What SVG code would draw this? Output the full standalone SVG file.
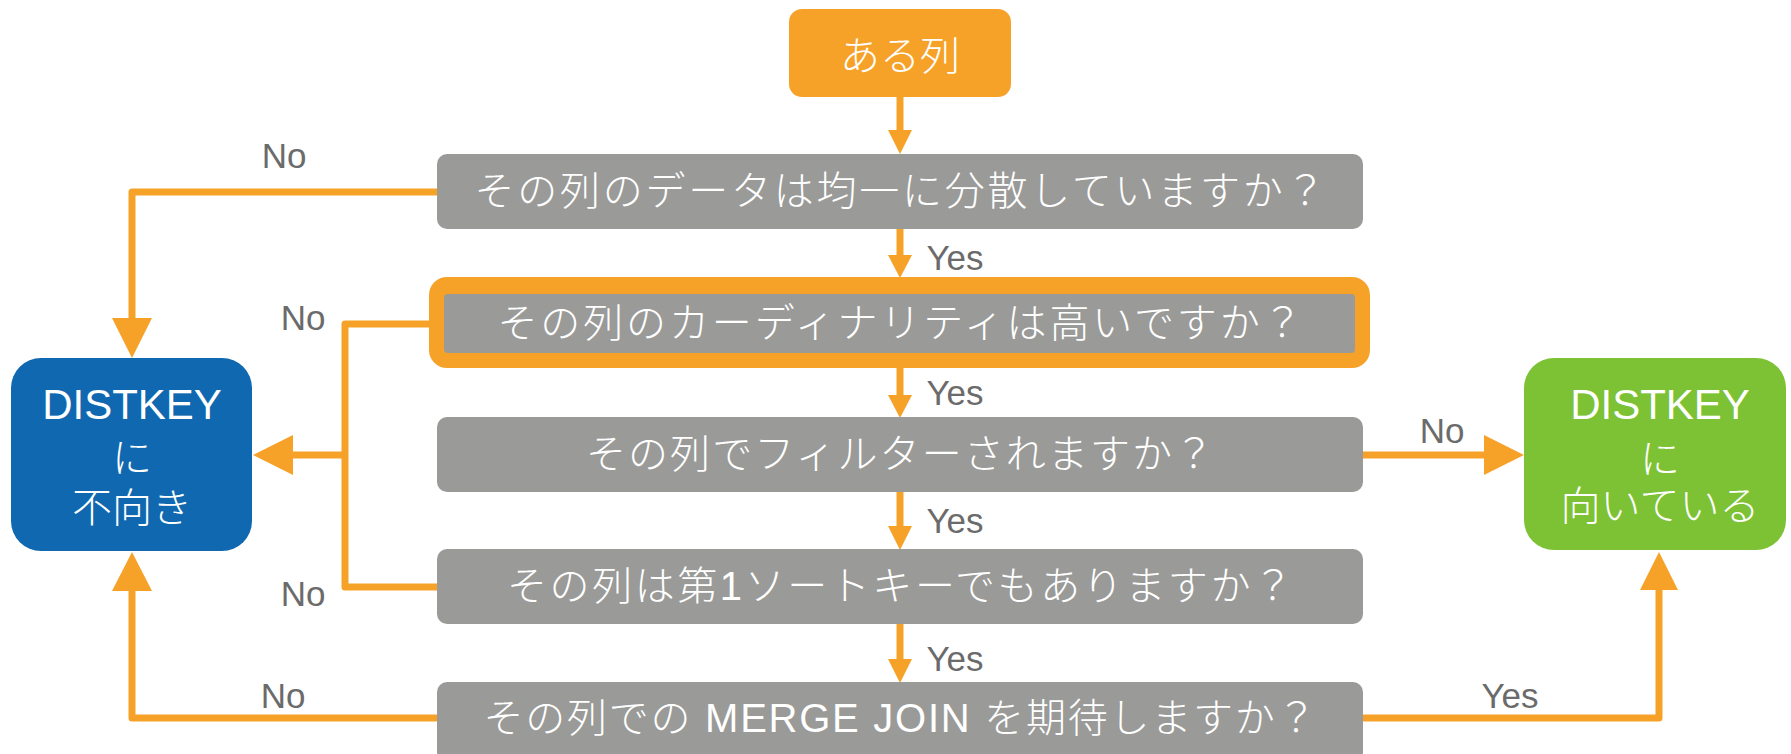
<svg xmlns="http://www.w3.org/2000/svg" width="1791" height="754" viewBox="0 0 1791 754">
<style>
.q{fill:#9A9A98}
.qt{font-family:"Liberation Sans","Noto Sans CJK JP",sans-serif;font-weight:300;font-size:40px;fill:#fff;text-anchor:middle;dominant-baseline:central}
.wt{font-family:"Liberation Sans","Noto Sans CJK JP",sans-serif;font-size:42px;fill:#fff;text-anchor:middle;dominant-baseline:central}
.jt{font-family:"Noto Sans CJK JP",sans-serif;font-weight:300;font-size:40px;fill:#fff;text-anchor:middle;dominant-baseline:central}
.lb{font-family:"Liberation Sans",sans-serif;font-size:35px;fill:#6B6B6B;text-anchor:middle;dominant-baseline:central}
.ln{fill:none;stroke:#F6A229;stroke-width:7;stroke-linejoin:round}
.ah{fill:#F6A229}
</style>
<g id="connectors">
<path class="ln" d="M900,97V132"/><polygon class="ah" points="888,130 912,130 900,154"/>
<path class="ln" d="M900,229V257"/><polygon class="ah" points="888,255 912,255 900,278"/>
<path class="ln" d="M900,368V397"/><polygon class="ah" points="888,395 912,395 900,418"/>
<path class="ln" d="M900,491V528"/><polygon class="ah" points="888,526 912,526 900,550"/>
<path class="ln" d="M900,624V661"/><polygon class="ah" points="888,659 912,659 900,683"/>
<path class="ln" d="M437,192H132V320"/><polygon class="ah" points="112,318 152,318 132,358"/>
<path class="ln" d="M430,324H345V587H437"/>
<path class="ln" d="M345,455H290"/><polygon class="ah" points="293,435 293,475 253,455"/>
<path class="ln" d="M437,718H132V589"/><polygon class="ah" points="112,591 152,591 132,552"/>
<path class="ln" d="M1363,455H1486"/><polygon class="ah" points="1484,435 1484,475 1524,455"/>
<path class="ln" d="M1363,718H1659V588"/><polygon class="ah" points="1640,590 1678,590 1659,552"/>
<text class="lb" x="284" y="155">No</text>
<text class="lb" x="303" y="317">No</text>
<text class="lb" x="303" y="593">No</text>
<text class="lb" x="283" y="695">No</text>
<text class="lb" x="1442" y="430">No</text>
<text class="lb" x="1510" y="695">Yes</text>
<text class="lb" x="955" y="257">Yes</text>
<text class="lb" x="955" y="392">Yes</text>
<text class="lb" x="955" y="520">Yes</text>
<text class="lb" x="955" y="658">Yes</text>
</g>
<g id="start">
<rect x="789" y="9" width="222" height="88" rx="13" fill="#F6A229"/>
<text class="jt" x="900" y="53">ある列</text>
</g>
<g id="q1">
<rect class="q" x="437" y="154" width="926" height="75" rx="10"/>
<text class="qt" x="900" y="191" textLength="851" lengthAdjust="spacing">その列のデータは均一に分散していますか？</text>
</g>
<g id="q2">
<rect x="429" y="277" width="941" height="91" rx="18" fill="#F6A229"/>
<rect class="q" x="444" y="294" width="911" height="59" rx="4"/>
<text class="qt" x="900" y="323" textLength="805" lengthAdjust="spacing">その列のカーディナリティは高いですか？</text>
</g>
<g id="q3">
<rect class="q" x="437" y="417" width="926" height="75" rx="10"/>
<text class="qt" x="900" y="454" textLength="628" lengthAdjust="spacing">その列でフィルターされますか？</text>
</g>
<g id="q4">
<rect class="q" x="437" y="549" width="926" height="75" rx="10"/>
<text class="qt" x="900" y="586" textLength="786" lengthAdjust="spacing">その列は第1ソートキーでもありますか？</text>
</g>
<g id="q5">
<rect class="q" x="437" y="682" width="926" height="80" rx="10"/>
<text class="qt" x="900" y="718" textLength="833" lengthAdjust="spacing">その列での MERGE JOIN を期待しますか？</text>
</g>
<g id="notfit">
<rect x="11" y="358" width="241" height="193" rx="30" fill="#0F68B0"/>
<text class="wt" x="132" y="404">DISTKEY</text>
<text class="jt" x="132" y="455">に</text>
<text class="jt" x="132" y="505">不向き</text>
</g>
<g id="fit">
<rect x="1524" y="358" width="262" height="192" rx="30" fill="#7CC234"/>
<text class="wt" x="1660" y="404">DISTKEY</text>
<text class="jt" x="1660" y="456">に</text>
<text class="jt" x="1660" y="503">向いている</text>
</g>
</svg>
